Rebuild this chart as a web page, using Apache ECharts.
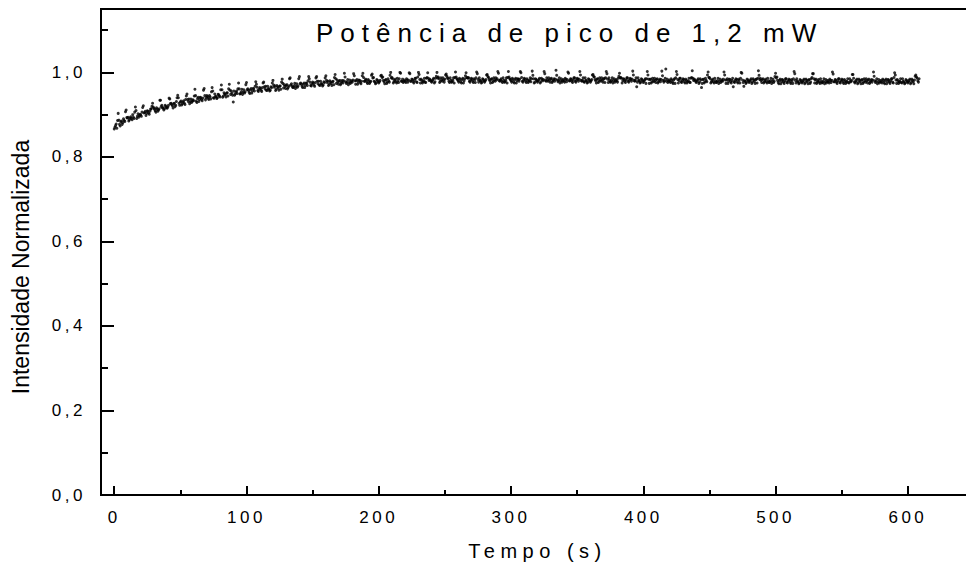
<!DOCTYPE html>
<html>
<head>
    <meta charset="utf-8">
    <title>Potência de pico de 1,2 mW</title>
    <script src="https://cdn.jsdelivr.net/npm/echarts@6/dist/echarts.min.js"></script>
    <style>
        html, body { margin: 0; padding: 0; background: #fff; }
        #main { width: 966px; height: 564px; }
        /* espaçamento das letras como no gráfico original */
        #main text[style*="17px"] { letter-spacing: 3.5px; }
        #main text[style*="20px"] { letter-spacing: 5.5px; }
        #main text[style*="26px"] { letter-spacing: 7px; }
    </style>
</head>
<body>
<div id="main"></div>
<script type="text/javascript">
    var titulo = 'Potência de pico de 1,2 mW';
    var nomeX = 'Tempo (s)';
    var nomeY = 'Intensidade Normalizada';

    // duas leituras por segundo: A em t = 0, 1, 2 ... e B em t = 0.5, 1.5, 2.5 ...
    var t0A = 0;
    var t0B = 0.5;
    var dt = 1;

    var intensidadeA = [
        0.866,0.874,0.868,0.903,0.877,0.883,0.877,0.890,0.884,0.911,
        0.892,0.885,0.892,0.891,0.900,0.891,0.918,0.891,0.902,0.898,
        0.899,0.906,0.921,0.905,0.898,0.909,0.904,0.908,0.914,0.927,
        0.915,0.909,0.916,0.908,0.914,0.934,0.922,0.916,0.914,0.920,
        0.915,0.922,0.937,0.927,0.921,0.926,0.919,0.931,0.946,0.927,
        0.930,0.923,0.930,0.927,0.936,0.949,0.931,0.926,0.937,0.932,
        0.933,0.960,0.932,0.938,0.931,0.941,0.936,0.939,0.962,0.935,
        0.945,0.939,0.945,0.937,0.964,0.940,0.949,0.943,0.940,0.947,
        0.942,0.970,0.941,0.952,0.947,0.951,0.944,0.972,0.948,0.951,
        0.930,0.946,0.953,0.950,0.975,0.949,0.954,0.948,0.959,0.954,
        0.976,0.961,0.953,0.959,0.951,0.962,0.956,0.978,0.965,0.955,
        0.964,0.958,0.964,0.977,0.961,0.958,0.967,0.961,0.958,0.964,
        0.981,0.965,0.957,0.969,0.963,0.967,0.960,0.984,0.963,0.967,
        0.969,0.961,0.968,0.987,0.973,0.964,0.968,0.962,0.973,0.968,
        0.990,0.975,0.967,0.972,0.964,0.975,0.969,0.990,0.977,0.968,
        0.977,0.970,0.976,0.990,0.973,0.970,0.979,0.973,0.970,0.976,
        0.992,0.976,0.969,0.980,0.974,0.978,0.971,0.995,0.974,0.977,
        0.979,0.971,0.978,0.975,0.998,0.978,0.977,0.971,0.982,0.977,
        0.977,0.997,0.980,0.980,0.972,0.982,0.976,0.979,0.998,0.979,
        0.984,0.977,0.983,0.974,0.979,0.996,0.988,0.978,0.975,0.981,
        0.975,0.981,0.993,0.989,0.978,0.982,0.974,0.985,0.977,1.000,
        0.988,0.975,0.981,0.978,0.986,0.976,1.000,0.979,0.984,0.979,
        0.979,0.985,0.977,0.999,0.979,0.984,0.978,0.981,0.986,0.976,
        1.000,0.983,0.984,0.975,0.980,0.977,0.986,0.999,0.981,0.982,
        0.977,0.983,0.975,0.986,1.000,0.989,0.976,0.987,0.979,0.982,
        0.984,0.996,0.987,0.979,0.987,0.977,0.981,0.975,1.001,0.985,
        0.980,0.986,0.978,0.983,0.975,0.985,0.999,0.987,0.987,0.977,
        0.986,0.979,0.985,0.976,1.001,0.983,0.987,0.980,0.977,0.983,
        0.977,0.983,0.995,0.988,0.980,0.984,0.976,0.987,0.979,0.982,
        1.002,0.981,0.982,0.979,0.987,0.977,0.981,0.975,1.002,0.985,
        0.980,0.986,0.978,0.983,0.975,0.985,0.979,1.002,0.988,0.977,
        0.986,0.979,0.985,0.976,0.981,0.978,1.003,0.985,0.977,0.983,
        0.977,0.983,0.975,0.986,0.980,1.002,0.981,0.987,0.979,0.982,
        0.984,0.976,0.982,0.979,1.005,0.982,0.981,0.975,0.985,0.980,
        0.980,0.986,0.978,1.001,0.980,0.985,0.979,0.982,0.987,0.977,
        0.986,0.979,1.002,0.981,0.981,0.978,0.987,0.980,0.977,0.983,
        0.977,0.983,0.995,0.989,0.980,0.984,0.976,0.987,0.979,0.982,
        0.984,0.976,1.002,0.984,0.987,0.977,0.981,0.975,0.985,0.980,
        0.980,0.986,0.998,0.988,0.975,0.985,0.979,0.982,0.987,0.977,
        0.986,0.979,1.003,0.981,0.981,0.966,0.987,0.980,0.977,0.983,
        0.976,0.982,0.974,1.002,0.984,0.983,0.975,0.986,0.978,0.981,
        0.983,0.975,0.981,0.978,1.003,0.981,0.980,1.008,0.984,0.979,
        0.979,0.985,0.977,0.982,0.974,1.002,0.983,0.981,0.986,0.976,
        0.985,0.978,0.984,0.975,0.980,0.977,0.986,1.004,0.981,0.982,
        0.976,0.982,0.974,0.985,0.964,0.983,0.975,0.986,0.978,1.001,
        0.988,0.975,0.981,0.978,0.986,0.976,0.980,0.974,0.984,0.979,
        0.979,1.001,0.982,0.982,0.974,0.984,0.978,0.981,0.966,0.976,
        0.985,0.978,0.984,0.975,1.000,0.982,0.967,0.979,0.976,0.982,
        0.976,0.982,0.974,0.985,0.979,0.983,0.975,1.004,0.983,0.981,
        0.983,0.975,0.981,0.978,0.986,0.976,0.980,0.974,0.984,0.979,
        0.998,0.989,0.976,0.981,0.973,0.983,0.977,0.980,0.985,0.975,
        0.984,0.977,0.983,0.974,1.002,0.981,0.985,0.978,0.975,0.981,
        0.975,0.981,0.973,0.984,0.978,0.982,0.974,0.985,0.997,0.985,
        0.982,0.974,0.980,0.977,0.985,0.975,0.979,0.973,0.983,0.978,
        0.978,0.984,0.976,1.001,0.978,0.983,0.977,0.980,0.985,0.975,
        0.984,0.977,0.983,0.974,0.979,0.976,0.985,0.978,0.995,0.986,
        0.975,0.981,0.973,0.984,0.978,0.982,0.974,0.985,0.977,0.980,
        0.982,0.974,0.980,0.977,1.001,0.980,0.979,0.973,0.983,0.978,
        0.978,0.984,0.976,0.981,0.973,0.983,0.977,0.980,0.985,0.975,
        0.999,0.982,0.983,0.974,0.979,0.976,0.985,0.978,0.975,0.981,
        0.975,0.981,0.973,0.984,0.978,0.982,0.994,0.986,0.977
    ];

    var intensidadeB = [
        0.870,0.878,0.886,0.887,0.873,0.885,0.881,0.886,0.907,0.893,
        0.894,0.888,0.895,0.888,0.894,0.906,0.910,0.896,0.894,0.901,
        0.896,0.917,0.904,0.908,0.903,0.908,0.901,0.913,0.920,0.918,
        0.913,0.906,0.913,0.911,0.934,0.919,0.916,0.911,0.922,0.917,
        0.918,0.939,0.926,0.924,0.916,0.927,0.922,0.940,0.940,0.922,
        0.932,0.926,0.933,0.924,0.944,0.936,0.937,0.931,0.929,0.935,
        0.944,0.945,0.929,0.941,0.936,0.940,0.933,0.958,0.945,0.940,
        0.943,0.936,0.942,0.954,0.956,0.939,0.943,0.938,0.948,0.944,
        0.959,0.959,0.944,0.949,0.942,0.952,0.961,0.958,0.956,0.946,
        0.956,0.949,0.956,0.961,0.961,0.950,0.960,0.953,0.951,0.971,
        0.959,0.958,0.950,0.962,0.956,0.961,0.967,0.972,0.957,0.960,
        0.962,0.955,0.975,0.966,0.967,0.957,0.961,0.956,0.966,0.975,
        0.970,0.968,0.960,0.966,0.958,0.968,0.977,0.974,0.971,0.962,
        0.971,0.964,0.985,0.970,0.967,0.965,0.974,0.967,0.965,0.985,
        0.973,0.972,0.964,0.975,0.969,0.974,0.980,0.985,0.969,0.973,
        0.975,0.967,0.987,0.979,0.979,0.969,0.973,0.968,0.978,0.987,
        0.981,0.979,0.972,0.977,0.969,0.979,0.988,0.985,0.982,0.972,
        0.981,0.974,0.981,0.980,0.989,0.974,0.983,0.976,0.974,0.980,
        0.982,0.992,0.972,0.983,0.977,0.981,0.973,0.992,0.988,0.979,
        0.982,0.974,0.980,0.977,0.993,0.987,0.979,0.973,0.983,0.978,
        0.978,0.992,0.988,0.981,0.973,0.983,0.977,0.980,0.993,0.987,
        0.985,0.978,0.984,0.975,0.980,0.985,0.998,0.979,0.976,0.982,
        0.976,0.982,0.982,0.997,0.979,0.983,0.975,0.986,0.978,0.989,
        0.995,0.975,0.981,0.978,0.986,0.976,0.988,0.986,0.984,0.979,
        0.980,0.986,0.978,0.991,0.987,0.985,0.979,0.982,0.987,0.977,
        0.994,0.991,0.985,0.976,0.981,0.978,0.987,0.988,0.989,0.983,
        0.977,0.983,0.975,0.986,0.980,0.992,0.988,0.987,0.979,0.982,
        0.984,0.976,0.982,0.987,0.997,0.977,0.981,0.975,0.985,0.980,
        0.980,0.994,0.990,0.983,0.975,0.985,0.979,0.982,0.987,0.985,
        0.998,0.979,0.985,0.976,0.981,0.978,0.987,0.988,0.989,0.983,
        0.977,0.983,0.975,0.986,0.980,0.984,0.984,0.999,0.979,0.982,
        0.984,0.976,0.982,0.979,0.987,0.985,0.993,0.975,0.985,0.980,
        0.980,0.986,0.978,0.983,0.983,0.997,0.979,0.982,0.987,0.977,
        0.986,0.979,0.985,0.984,0.993,0.978,0.987,0.980,0.977,0.983,
        0.977,0.983,0.983,0.998,0.980,0.984,0.976,0.987,0.979,0.982,
        0.984,0.984,0.994,0.979,0.987,0.977,0.981,0.975,0.985,0.980,
        0.980,0.994,0.990,0.983,0.975,0.985,0.979,0.982,0.987,0.977,
        0.986,0.987,0.997,0.976,0.981,0.978,0.987,0.980,0.977,0.983,
        0.977,0.991,0.987,0.986,0.980,0.984,0.976,0.987,0.979,0.982,
        0.984,0.984,0.994,0.979,0.987,0.977,0.981,0.975,0.985,0.980,
        0.979,0.985,0.985,0.994,0.974,0.984,0.978,0.981,0.986,0.976,
        0.985,0.978,0.984,0.983,0.992,0.977,0.986,0.979,0.976,0.982,
        0.976,0.982,0.974,0.985,0.987,0.995,0.975,0.986,0.978,0.981,
        0.983,0.975,0.981,0.978,0.986,0.976,0.988,0.986,0.984,0.979,
        0.979,0.985,0.977,0.982,0.974,0.984,0.978,0.981,0.994,0.988,
        0.985,0.978,0.984,0.975,0.980,0.977,0.986,0.979,0.976,0.982,
        0.984,0.994,0.974,0.985,0.979,0.983,0.975,0.986,0.978,0.981,
        0.983,0.975,0.981,0.986,0.998,0.976,0.980,0.974,0.984,0.979,
        0.979,0.985,0.977,0.982,0.974,0.984,0.986,0.993,0.986,0.976,
        0.985,0.978,0.984,0.975,0.980,0.977,0.986,0.979,0.976,0.990,
        0.987,0.981,0.973,0.984,0.978,0.982,0.974,0.985,0.977,0.980,
        0.982,0.974,0.980,0.985,0.997,0.975,0.979,0.973,0.983,0.978,
        0.978,0.984,0.976,0.981,0.973,0.983,0.977,0.988,0.997,0.975,
        0.984,0.977,0.983,0.974,0.979,0.976,0.985,0.978,0.975,0.981,
        0.975,0.981,0.981,0.996,0.978,0.982,0.974,0.985,0.977,0.980,
        0.982,0.974,0.980,0.977,0.985,0.975,0.979,0.981,0.995,0.978,
        0.978,0.984,0.976,0.981,0.973,0.983,0.977,0.980,0.985,0.975,
        0.984,0.977,0.983,0.982,0.991,0.976,0.985,0.978,0.975,0.981,
        0.975,0.981,0.973,0.984,0.978,0.982,0.974,0.985,0.977,0.988,
        0.994,0.974,0.980,0.977,0.985,0.975,0.979,0.973,0.983,0.978,
        0.978,0.984,0.976,0.981,0.973,0.991,0.989,0.980,0.985
    ];

    function comTempo(valores, inicio) {
        return valores.map(function (v, i) { return [inicio + i * dt, v]; });
    }

    var fonte = 'Arial, "Liberation Sans", sans-serif';
    var preto = '#000';

    var myChart = echarts.init(document.getElementById('main'), null, { renderer: 'svg' });
    myChart.setOption({
        animation: false,
        backgroundColor: '#fff',
        title: {
            text: titulo,
            left: 316,
            top: 20,
            padding: 0,
            textStyle: { fontFamily: fonte, fontSize: 26, fontWeight: 'normal', color: preto }
        },
        grid: {
            left: 101, right: -8, top: 9, bottom: 69,
            outerBoundsMode: 'none',
            containLabel: false,
            show: true, borderColor: preto, borderWidth: 2, backgroundColor: 'transparent'
        },
        xAxis: {
            type: 'value',
            min: -10,
            max: 650,
            name: nomeX,
            nameLocation: 'middle',
            nameGap: 46,
            nameTextStyle: { fontFamily: fonte, fontSize: 20, color: preto },
            axisLine: { onZero: false, lineStyle: { color: preto, width: 2 } },
            axisTick: { inside: true, length: 9, lineStyle: { color: preto, width: 2 } },
            minorTick: { show: true, splitNumber: 2, length: 5, lineStyle: { color: preto, width: 2 } },
            splitLine: { show: false },
            axisLabel: {
                showMinLabel: false, showMaxLabel: false,
                margin: 14,
                fontFamily: fonte, fontSize: 17, color: preto
            }
        },
        yAxis: {
            type: 'value',
            min: 0,
            max: 1.15,
            name: nomeY,
            nameLocation: 'middle',
            nameGap: 69,
            nameTextStyle: { fontFamily: fonte, fontSize: 23, color: preto, padding: [0, 30, 0, 0] },
            axisLine: { onZero: false, lineStyle: { color: preto, width: 2 } },
            axisTick: { inside: true, length: 13, lineStyle: { color: preto, width: 2 } },
            minorTick: { show: true, splitNumber: 2, length: 7, lineStyle: { color: preto, width: 2 } },
            splitLine: { show: false },
            axisLabel: {
                showMaxLabel: false,
                margin: 15,
                fontFamily: fonte, fontSize: 17, color: preto,
                formatter: function (v) { return v.toFixed(1).replace('.', ','); }
            }
        },
        series: [
            {
                name: 'A',
                type: 'scatter',
                data: comTempo(intensidadeA, t0A),
                symbol: 'circle',
                symbolSize: 3,
                itemStyle: { color: preto }
            },
            {
                name: 'B',
                type: 'scatter',
                data: comTempo(intensidadeB, t0B),
                symbol: 'circle',
                symbolSize: 3,
                itemStyle: { color: preto }
            }
        ]
    });
</script>
</body>
</html>
